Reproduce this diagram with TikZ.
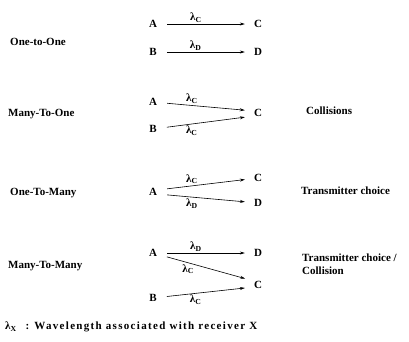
\documentclass[tikz,border=0pt]{standalone}
\usepackage{fontspec}
\setmainfont{Liberation Serif}
\newfontfamily\keyfont[LetterSpace=12]{Liberation Serif}
\usetikzlibrary{arrows.meta,positioning}
\newcommand{\wl}[1]{λ\textsubscript{#1}}

\begin{document}
\begin{tikzpicture}[x=1pt, y=-1pt,
  every node/.style={font=\bfseries\fontsize{11}{13}\selectfont},
  stn/.style={inner sep=0pt},
  kind/.style={anchor=west, inner sep=0pt},
  note/.style={anchor=west, inner sep=0pt, align=left},
  link/.style={-{Stealth[length=5pt,width=3pt]}, line width=0.6pt,
    shorten <=10pt, shorten >=9pt},
  lbl/.style={inner sep=1.5pt, font=\bfseries\fontsize{11}{12}\selectfont},
]
\useasboundingbox (0,0) rectangle (409,341);

%% ── One-to-One ───────────────────────────────────────────
\node[kind] (k1) at (10,42) {One-to-One};
\node[stn] (a1) at (153,24) {A};
\node[stn] (c1) at (258,24) {C};
\node[stn] (b1) at (153,52) {B};
\node[stn] (d1) at (258,52) {D};
\draw[link] (a1) -- node[lbl, above, pos=0.4] {\wl{C}} (c1);
\draw[link] (b1) -- node[lbl, above, pos=0.4] {\wl{D}} (d1);

%% ── Many-To-One ──────────────────────────────────────────
\node[kind] (k2) at (8,114) {Many-To-One};
\node[stn] (a2) at (153,102) {A};
\node[stn] (b2) at (153,129) {B};
\node[stn] (c2) at (258,113) {C};
\draw[link] (a2) -- node[lbl, above, pos=0.36] {\wl{C}} ([yshift=2pt]c2.west);
\draw[link] (b2) -- node[lbl, below, pos=0.36] {\wl{C}} ([yshift=-3pt]c2.west);
\node[note] (n2) at (306,111) {Collisions};

%% ── One-To-Many ──────────────────────────────────────────
\node[kind] (k3) at (10,193) {One-To-Many};
\node[stn] (a3) at (153,192) {A};
\node[stn] (c3) at (258,178) {C};
\node[stn] (d3) at (258,203) {D};
\draw[link] ([yshift=2pt]a3.east) -- node[lbl, above, pos=0.36] {\wl{C}} (c3);
\draw[link] ([yshift=-2pt]a3.east) -- node[lbl, below, pos=0.36] {\wl{D}} (d3);
\node[note] (n3) at (301,191) {Transmitter choice};

%% ── Many-To-Many ─────────────────────────────────────────
\node[kind] (k4) at (8,266) {Many-To-Many};
\node[stn] (a4) at (153,253) {A};
\node[stn] (d4) at (258,253) {D};
\node[stn] (c4) at (258,285) {C};
\node[stn] (b4) at (153,298) {B};
\draw[link] (a4) -- node[lbl, above, pos=0.4] {\wl{D}} (d4);
\draw[link] (a4) -- node[lbl, below, pos=0.32] {\wl{C}} ([yshift=4pt]c4.west);
\draw[link] (b4) -- node[lbl, below, pos=0.4] {\wl{C}} ([yshift=-2pt]c4.west);
\node[note] (n4) at (302,264) {Transmitter choice /\\Collision};

%% ── Legend ───────────────────────────────────────────────
\node[kind] (key) at (5,327) {\wl{X}\hspace{9pt}:\hspace{5pt}{\keyfont\bfseries Wavelength associated with receiver X}};

\end{tikzpicture}
\end{document}
